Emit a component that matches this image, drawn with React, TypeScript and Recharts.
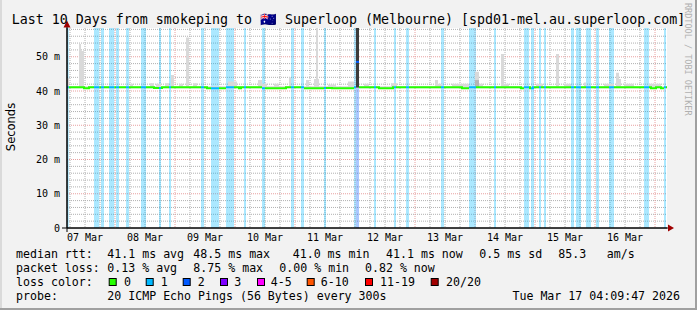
import React from "react";
import { ComposedChart, Area, Line, XAxis, YAxis, CartesianGrid } from "recharts";

const W = 697;
const H = 310;
const TITLE = "Last 10 Days from smokeping to \u{1F1E6}\u{1F1FA} Superloop (Melbourne) [spd01-mel.au.superloop.com]";
const WATERMARK = "RRDTOOL / TOBI OETIKER";
const Y_TITLE = "Seconds";

// time axis in hours since 07 Mar 00:00
const X_START = 4.8;
const X_END = 244.8;
const Y_MAX = 58.4;

const X_TICKS = [12, 36, 60, 84, 108, 132, 156, 180, 204, 228];
const X_LABELS = ["07 Mar", "08 Mar", "09 Mar", "10 Mar", "11 Mar", "12 Mar", "13 Mar", "14 Mar", "15 Mar", "16 Mar"];
const Y_TICKS = [0, 10, 20, 30, 40, 50];
const Y_LABELS = ["0", "10 m", "20 m", "30 m", "40 m", "50 m"];
const GRID_MINOR_Y = [2, 4, 6, 8, 12, 14, 16, 18, 22, 24, 26, 28, 32, 34, 36, 38, 42, 44, 46, 48, 52, 54, 56, 58];
const GRID_MAJOR_Y = [10, 20, 30, 40, 50];
const GRID_MINOR_X = [6, 12, 18, 30, 36, 42, 54, 60, 66, 78, 84, 90, 102, 108, 114, 126, 132, 138, 150, 156, 162, 174, 180, 186, 198, 204, 210, 222, 228, 234];
const GRID_MAJOR_X = [24, 48, 72, 96, 120, 144, 168, 192, 216, 240];

// median rtt change points [hour, ms]
const MEDIAN: [number, number][] = [
  [4.8, 41.1], [11.6, 40.8], [13.6, 41.1], [39.6, 40.9], [42.8, 41.1],
  [60.8, 40.8], [68.4, 41.1], [73.6, 40.8], [74.4, 41.1],
  [82.8, 40.8], [92.4, 41.1], [99.6, 40.8], [107.6, 40.9], [110.8, 40.8],
  [119.6, 41.1], [120.4, 48.5], [121.6, 41.1],
  [129.6, 40.8], [135.2, 41.1], [162.8, 40.8], [165.6, 41.1],
  [186.4, 40.8], [187.6, 41.1], [190.0, 40.8], [191.2, 41.1],
  [238.4, 40.8], [240.4, 41.1], [242.4, 40.8], [243.6, 41.1],
];

// loss periods [startHour, endHour, lossLevelIndex]
const LOSS_BANDS: [number, number, number][] = [
  [4.8, 5.5, 1], [15.6, 17.7, 1], [18.4, 19.6, 1], [21.6, 23.7, 1], [24.4, 25.6, 1],
  [28.4, 29.6, 1], [34.4, 36.4, 1], [41.6, 42.4, 1], [45.6, 46.4, 1], [58.4, 59.6, 1],
  [62.4, 65.6, 1], [68.4, 71.6, 1], [75.6, 76.4, 1], [82.8, 84.0, 1], [94.4, 95.6, 1],
  [98.4, 99.6, 1], [107.6, 108.4, 1], [119.6, 120.4, 1], [120.4, 121.6, 2], [127.6, 128.4, 1],
  [135.6, 136.4, 1], [140.4, 141.6, 1], [154.4, 155.6, 1], [165.6, 168.4, 1], [175.6, 176.4, 1],
  [187.6, 189.6, 1], [190.4, 191.6, 1], [193.6, 194.4, 1], [195.6, 196.4, 1], [206.4, 207.6, 1],
  [208.4, 210.4, 1], [212.4, 214.4, 1], [216.4, 217.6, 1], [221.6, 223.6, 1], [235.6, 237.6, 1],
  [243.6, 244.4, 1],
];

// smoke (ping spread): base band and spikes [startHour, endHour, topMs]
const SMOKE_LOW = 40.8;
const SMOKE_TOP = 41.4;
const SMOKE_SPIKES: [number, number, number][] = [
  [4.8, 5.6, 43.7], [9.6, 10.4, 53.7], [10.4, 11.6, 51.7], [30.0, 31.2, 42.1], [38.0, 39.6, 42.3],
  [40.4, 42.4, 42.1], [44.0, 45.6, 42.3], [46.4, 47.6, 44.7], [49.6, 51.2, 42.1], [52.4, 53.6, 55.6],
  [55.2, 56.8, 42.3], [69.2, 72.8, 42.8], [81.2, 82.8, 43.2], [82.8, 84.8, 42.1], [87.6, 89.6, 42.1],
  [93.6, 94.4, 44.0], [100.4, 101.6, 43.2], [103.6, 104.4, 43.5], [104.4, 105.2, 60.0], [105.2, 105.6, 43.5],
  [109.2, 112.4, 41.9], [117.2, 119.6, 42.8], [123.6, 125.6, 42.1], [134.4, 136.8, 42.3], [152.0, 153.2, 43.2],
  [153.2, 154.8, 42.1], [158.8, 165.6, 42.1], [168.0, 169.6, 45.6], [169.6, 171.2, 42.1], [178.4, 179.6, 50.8],
  [179.6, 181.6, 42.1], [192.4, 195.2, 42.1], [200.4, 201.6, 50.8], [203.6, 206.4, 42.1], [211.6, 212.4, 42.5],
  [219.6, 223.6, 42.1], [224.4, 225.6, 45.3], [225.6, 226.4, 43.5], [227.6, 231.6, 42.1], [237.6, 242.4, 42.1],
];
// denser smoke [startHour, endHour, lowMs, highMs]
const SMOKE_MID: [number, number, number, number][] = [[168.0, 169.6, 41.2, 43.2]];
const SMOKE_DARK: [number, number, number, number][] = [[120.4, 121.6, 41.0, 60.0]];

const LOSS_COLORS = ["#26ff00", "#00b8ff", "#0059ff", "#7e00ff", "#ff00ff", "#ff5500", "#ff0000", "#a10000"];
const LOSS_LABELS = ["0", "1", "2", "3", "4-5", "6-10", "11-19", "20/20"];
const RTT_STATS = ["41.1 ms avg", "48.5 ms max", "41.0 ms min", "41.1 ms now", "0.5 ms sd", "85.3", "am/s"];
const LOSS_STATS = ["0.13 % avg", "8.75 % max", "0.00 % min", "0.82 % now"];
const PROBE = "20 ICMP Echo Pings (56 Bytes) every 300s";
const STAMP = "Tue Mar 17 04:09:47 2026";

// layout
const RTT_X = [107.3, 193.3, 292.7, 386, 479.3, 558.3, 606.7];
const LOSS_X = [107.3, 193.3, 279.3, 365];
const BOX_X = [108.7, 145.7, 182.7, 220, 257, 306.7, 365, 430.7];
const BOX_LABEL_X = [124, 160.7, 197.7, 234.3, 270.7, 320.7, 380, 446];

const medianAt = (h: number) => {
  let v = MEDIAN[0][1];
  for (const [t, m] of MEDIAN) if (t <= h + 1e-9) v = m;
  return v;
};
const levelAt = (h: number) => {
  for (const [s, e, l] of LOSS_BANDS) if (h >= s - 1e-9 && h < e - 1e-9) return l;
  return 0;
};
const cuts = Array.from(
  new Set([X_START, X_END, ...MEDIAN.map((m) => m[0]), ...LOSS_BANDS.flatMap((b) => [b[0], b[1]])])
)
  .filter((h) => h >= X_START && h <= X_END)
  .sort((a, b) => a - b);
const runs = cuts.slice(0, -1).map((a, i) => ({ a, b: cuts[i + 1], v: medianAt(a), l: levelAt(a) }));

const lineFor = (lvl: number) => {
  const pts: { x: number; y: number | null }[] = [];
  runs.forEach((r, i) => {
    if (r.l !== lvl) return;
    const prev = runs[i - 1];
    if (!(prev && prev.l === lvl) && pts.length) pts.push({ x: r.a, y: null });
    pts.push({ x: r.a, y: r.v }, { x: r.b, y: r.v });
  });
  return pts;
};

const bandData = (lvl: number) => {
  const pts: { x: number; y: number }[] = [{ x: X_START, y: 0 }];
  LOSS_BANDS.filter((b) => b[2] === lvl).forEach(([s, e]) => {
    pts.push({ x: s, y: Y_MAX }, { x: e, y: 0 });
  });
  pts.push({ x: X_END, y: 0 });
  return pts;
};

const smokeData = (() => {
  const pts: { x: number; y: number[] }[] = [{ x: X_START, y: [SMOKE_LOW, SMOKE_TOP] }];
  SMOKE_SPIKES.forEach(([s, e, v]) => {
    pts.push({ x: s, y: [SMOKE_LOW, v] }, { x: e, y: [SMOKE_LOW, SMOKE_TOP] });
  });
  pts.push({ x: X_END, y: [SMOKE_LOW, SMOKE_TOP] });
  return pts;
})();

const rangeData = (segs: [number, number, number, number][]) =>
  segs.flatMap(([s, e, lo, hi]) => [{ x: s, y: [lo, hi] }, { x: e, y: [lo, hi] }]);

const MONO = "'DejaVu Sans Mono', monospace";

export default function App() {
  return (
    <div
      style={{
        position: "absolute",
        left: 0,
        top: 0,
        width: W,
        height: H,
        background: "#f2f2f2",
        overflow: "hidden",
      }}
    >
      <ComposedChart width={W} height={H} margin={{ top: 28, right: 30, bottom: 62, left: 17 }}>
        <CartesianGrid
          horizontalValues={GRID_MINOR_Y}
          verticalValues={GRID_MINOR_X}
          stroke="#b0b0b0"
          strokeDasharray="1 1"
          fill="#ffffff"
          fillOpacity={1}
        />
        <CartesianGrid
          horizontalValues={GRID_MAJOR_Y}
          verticalValues={GRID_MAJOR_X}
          stroke="#e8a0a0"
          strokeDasharray="1 1"
        />
        <XAxis
          type="number"
          dataKey="x"
          domain={[X_START, X_END]}
          allowDataOverflow
          ticks={X_TICKS}
          interval={0}
          tickFormatter={(v: number) => X_LABELS[X_TICKS.indexOf(v)]}
          tickLine={false}
          tickSize={0}
          tickMargin={6}
          height={20}
          axisLine={{ stroke: "#000" }}
          tick={{ fontFamily: MONO, fontSize: 10, fill: "#000" }}
        />
        <YAxis
          type="number"
          domain={[0, Y_MAX]}
          allowDataOverflow
          ticks={Y_TICKS}
          interval={0}
          tickFormatter={(v: number) => Y_LABELS[Y_TICKS.indexOf(v)]}
          tickLine={false}
          tickSize={0}
          tickMargin={7}
          width={50}
          axisLine={{ stroke: "#000" }}
          tick={{ fontFamily: MONO, fontSize: 10, fill: "#000" }}
        />
        <Area data={bandData(1)} dataKey="y" type="stepAfter" stroke="none" fill={LOSS_COLORS[1]} fillOpacity={0.33} isAnimationActive={false} dot={false} activeDot={false} />
        <Area data={bandData(2)} dataKey="y" type="stepAfter" stroke="none" fill={LOSS_COLORS[2]} fillOpacity={0.33} isAnimationActive={false} dot={false} activeDot={false} />
        <Area data={smokeData} dataKey="y" type="stepAfter" stroke="none" fill="#d9d9d9" fillOpacity={1} isAnimationActive={false} dot={false} activeDot={false} />
        <Area data={rangeData(SMOKE_MID)} dataKey="y" type="stepAfter" stroke="none" fill="#b5b5b5" fillOpacity={1} isAnimationActive={false} dot={false} activeDot={false} />
        <Area data={rangeData(SMOKE_DARK)} dataKey="y" type="stepAfter" stroke="none" fill="#3c3c3c" fillOpacity={1} isAnimationActive={false} dot={false} activeDot={false} />
        <Line data={lineFor(0)} dataKey="y" type="linear" stroke={LOSS_COLORS[0]} strokeWidth={2} dot={false} activeDot={false} isAnimationActive={false} connectNulls={false} />
        <Line data={lineFor(1)} dataKey="y" type="linear" stroke={LOSS_COLORS[1]} strokeWidth={2} dot={false} activeDot={false} isAnimationActive={false} connectNulls={false} />
        <Line data={lineFor(2)} dataKey="y" type="linear" stroke={LOSS_COLORS[2]} strokeWidth={2} dot={false} activeDot={false} isAnimationActive={false} connectNulls={false} />
      </ComposedChart>
      <svg width={W} height={H} style={{ position: "absolute", left: 0, top: 0, pointerEvents: "none" }}>
        {/* frame */}
        <rect x={0} y={0} width={2} height={H} fill="#dadada" />
        <rect x={W - 2} y={0} width={2} height={H} fill="#a0a0a0" />
        <rect x={0} y={H - 2} width={W} height={2} fill="#a0a0a0" />
        {/* axis arrows */}
        <polygon points="63.5,27.5 70.5,27.5 67,20.5" fill="#a00000" />
        <polygon points="668,224.5 668,231.5 674,228" fill="#a00000" />
        <line x1={62} y1={228} x2={668} y2={228} stroke="#000" strokeWidth={1} />
        <line x1={67} y1={27} x2={67} y2={232} stroke="#000" strokeWidth={1} />
        <text x={348.5} y={24} textAnchor="middle" fontFamily={MONO} fontSize={13.3} fill="#000">
          {TITLE}
        </text>
        <text
          x={688}
          y={3}
          transform="rotate(90 688 3)"
          fontFamily={MONO}
          fontSize={8.5}
          fill="#b0b0b0"
          dominantBaseline="central"
        >
          {WATERMARK}
        </text>
        <text
          x={10.5}
          y={127}
          transform="rotate(-90 10.5 127)"
          textAnchor="middle"
          dominantBaseline="central"
          fontFamily="'DejaVu Sans', sans-serif"
          fontSize={11.5}
          fill="#000"
        >
          {Y_TITLE}
        </text>
        <g fontFamily={MONO} fontSize={11.6} fill="#000">
          <text x={16} y={258}>median rtt:</text>
          {RTT_STATS.map((s, i) => (
            <text key={"r" + i} x={RTT_X[i]} y={258}>{s}</text>
          ))}
          <text x={16} y={272}>packet loss:</text>
          {LOSS_STATS.map((s, i) => (
            <text key={"l" + i} x={LOSS_X[i]} y={272}>{s}</text>
          ))}
          <text x={16} y={286}>loss color:</text>
          {LOSS_LABELS.map((s, i) => (
            <g key={"c" + i}>
              <rect x={BOX_X[i] + 0.5} y={278.5} width={7} height={7} fill={LOSS_COLORS[i]} stroke="#000" strokeWidth={1} />
              <text x={BOX_LABEL_X[i]} y={286}>{s}</text>
            </g>
          ))}
          <text x={16} y={300}>probe:</text>
          <text x={107.3} y={300}>{PROBE}</text>
          <text x={680} y={300} textAnchor="end">{STAMP}</text>
        </g>
      </svg>
    </div>
  );
}
